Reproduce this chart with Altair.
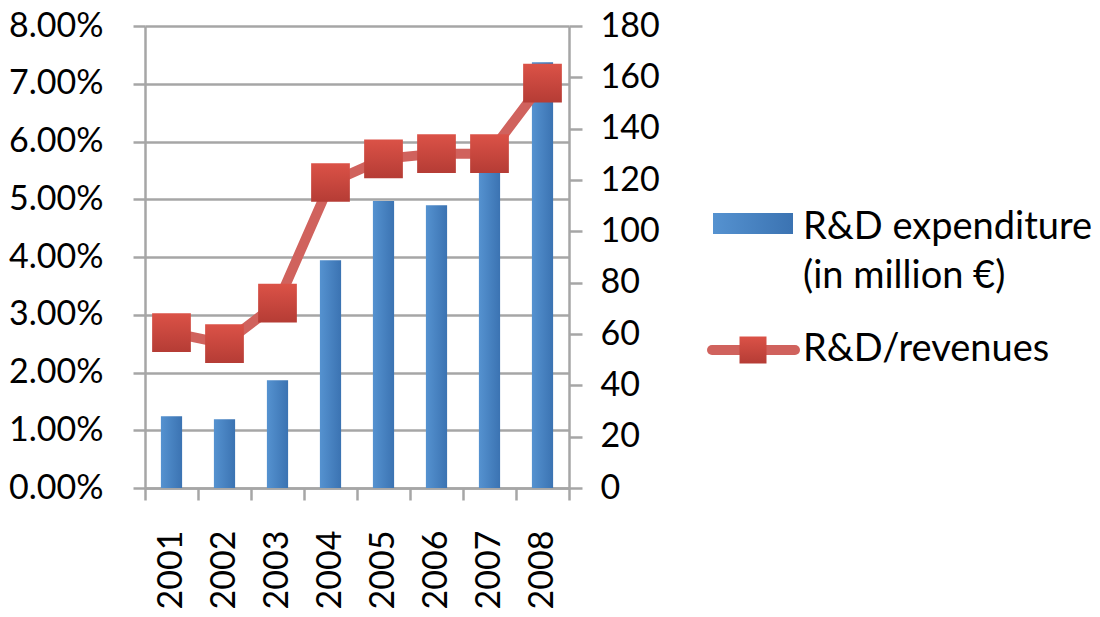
import altair as alt
import pandas as pd

years = ["2001", "2002", "2003", "2004", "2005", "2006", "2007", "2008"]
rd_expenditure = [28.0, 26.8, 42.0, 88.7, 111.8, 110.2, 127.0, 165.9]
rd_ratio = [0.0269, 0.0250, 0.0320, 0.0529, 0.0570, 0.0579, 0.0579, 0.0701]
pct_ticks = [0, 0.01, 0.02, 0.03, 0.04, 0.05, 0.06, 0.07, 0.08]
eur_ticks = [0, 20, 40, 60, 80, 100, 120, 140, 160, 180]

df = pd.DataFrame({"year": years, "expenditure": rd_expenditure, "ratio": rd_ratio})

FONT = "Lato"
FS = 34
LFS = 38
GRAY = "#a6a6a6"
LINE_COLOR = "#d0625d"

bar_grad = alt.Gradient(
    gradient="linear", x1=0, x2=1, y1=0, y2=0,
    stops=[alt.GradientStop(color="#5592d0", offset=0),
           alt.GradientStop(color="#3b73b2", offset=1)])
mark_grad = alt.Gradient(
    gradient="linear", x1=0, x2=0, y1=0, y2=1,
    stops=[alt.GradientStop(color="#db5247", offset=0),
           alt.GradientStop(color="#b53c35", offset=1)])

x = alt.X(
    "year:N", sort=years,
    scale=alt.Scale(paddingInner=0, paddingOuter=0),
    axis=alt.Axis(title=None, labelAngle=-90, labelFontSize=FS, labelFont=FONT,
                  labelColor="black", labelPadding=30, tickSize=12, tickColor=GRAY,
                  tickWidth=2.5, domainColor=GRAY, domainWidth=2.5,
                  tickBand="extent", grid=False))

y_pct_axis = alt.Axis(orient="left", format=".2%", values=pct_ticks, title=None,
                      labelFontSize=FS, labelFont=FONT, labelColor="black",
                      labelPadding=30, tickSize=12, tickColor=GRAY, tickWidth=2.5,
                      domainColor=GRAY, domainWidth=2.5, grid=True,
                      gridColor=GRAY, gridWidth=2.5)
y_pct_scale = alt.Scale(domain=[0, 0.08])

bars = alt.Chart(df).mark_bar(width=alt.RelativeBandSize(0.4), color=bar_grad).encode(
    x=x,
    y=alt.Y("expenditure:Q", scale=alt.Scale(domain=[0, 180]),
            axis=alt.Axis(orient="right", values=eur_ticks, title=None,
                          labelFontSize=FS, labelFont=FONT, labelColor="black",
                          labelPadding=18, tickSize=13, tickColor=GRAY, tickWidth=2.5,
                          domainColor=GRAY, domainWidth=2.5, grid=False)))

line = alt.Chart(df).mark_line(color=LINE_COLOR, strokeWidth=10).encode(
    x=x, y=alt.Y("ratio:Q", scale=y_pct_scale, axis=y_pct_axis))
points = alt.Chart(df).mark_point(shape="square", filled=True, size=1500,
                                  color=mark_grad, opacity=1).encode(
    x=x, y=alt.Y("ratio:Q", scale=y_pct_scale, axis=y_pct_axis))

one = pd.DataFrame({"a": [0]})
leg_rect = alt.Chart(one).mark_rect(color=bar_grad).encode(
    x=alt.value(568), x2=alt.value(648), y=alt.value(187), y2=alt.value(208))
leg_rule = alt.Chart(one).mark_rule(color=LINE_COLOR, strokeWidth=10, strokeCap="round").encode(
    x=alt.value(567), x2=alt.value(650), y=alt.value(324))
leg_sq = alt.Chart(one).mark_point(shape="square", filled=True, size=729,
                                   color=mark_grad, opacity=1).encode(
    x=alt.value(608), y=alt.value(324))
txt = dict(align="left", baseline="middle", font=FONT, fontSize=LFS, color="black")
leg_t1 = alt.Chart(one).mark_text(**txt).encode(
    x=alt.value(658), y=alt.value(202), text=alt.value("R&D expenditure"))
leg_t2 = alt.Chart(one).mark_text(**txt).encode(
    x=alt.value(658), y=alt.value(251), text=alt.value("(in million €)"))
leg_t3 = alt.Chart(one).mark_text(**txt).encode(
    x=alt.value(658), y=alt.value(324), text=alt.value("R&D/revenues"))

chart = alt.layer(
    bars,
    alt.layer(line, points),
    leg_rect, leg_rule, leg_sq, leg_t1, leg_t2, leg_t3,
).resolve_scale(y="independent").properties(
    width=424, height=462,
    autosize=alt.AutoSizeParams(type="none"),
    padding={"left": 137, "top": 18, "right": 523, "bottom": 121},
    background="white",
).configure_view(stroke=None)

chart.save("out.html", embed_options={"renderer": "svg", "actions": False})
